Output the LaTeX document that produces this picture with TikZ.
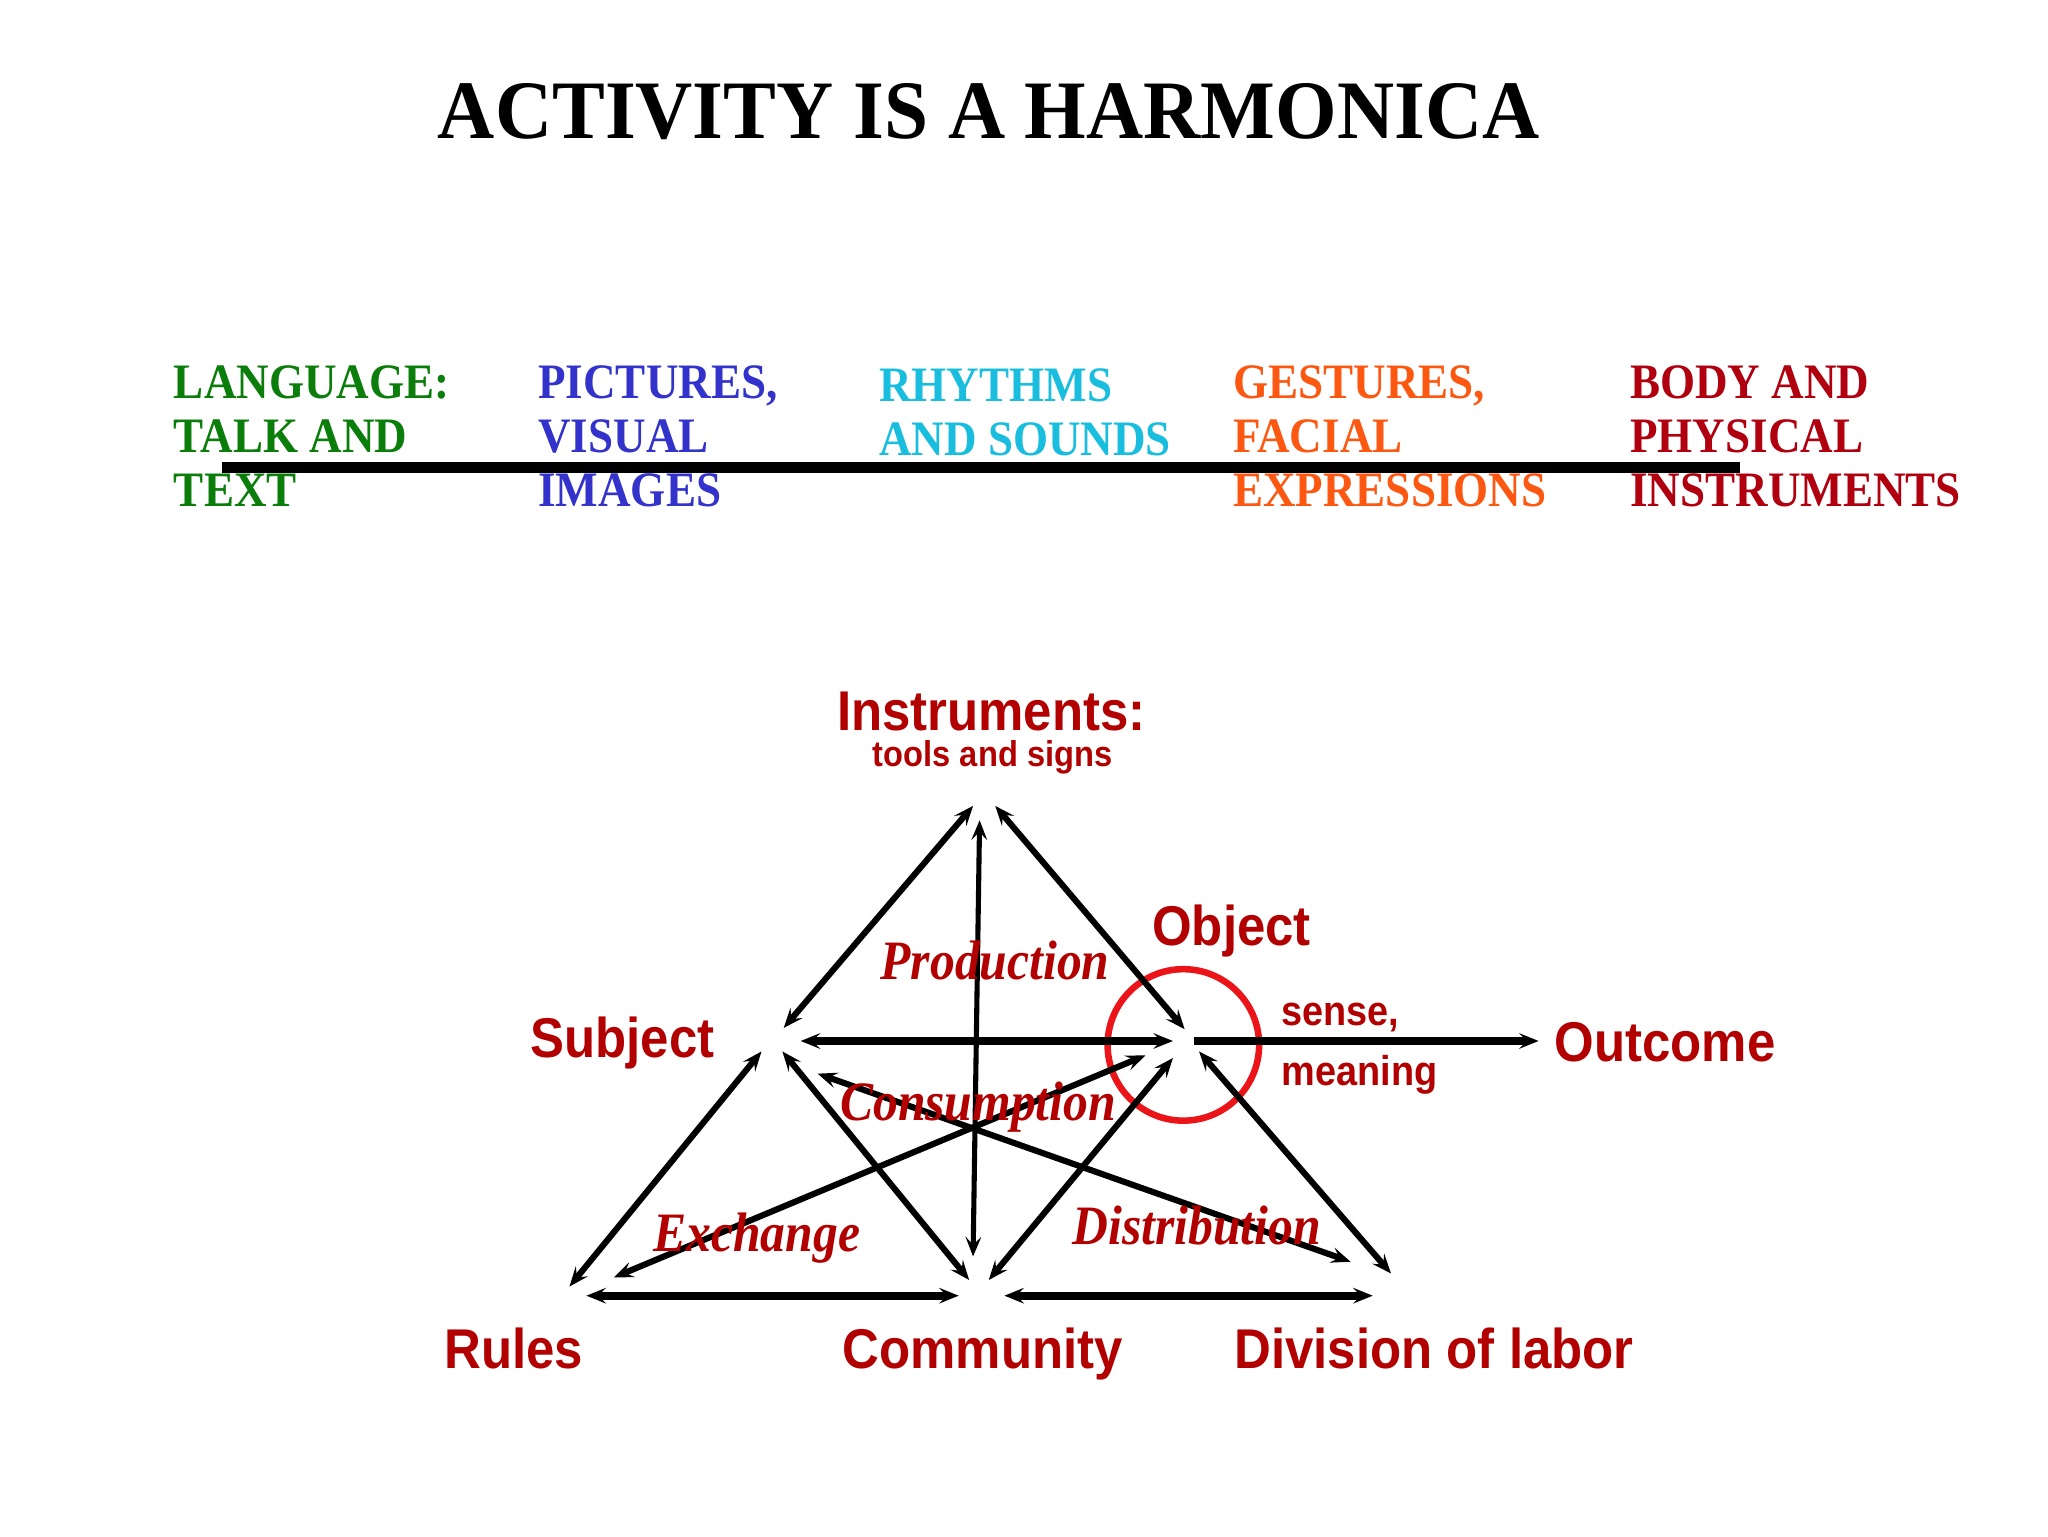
\documentclass[tikz,border=0pt]{standalone}
\usepackage{fontspec}
\setmainfont{Liberation Serif}
\newfontfamily\sansb{Liberation Sans}
\usetikzlibrary{arrows.meta,calc}
\definecolor{lgreen}{RGB}{10,125,10}
\definecolor{lblue}{RGB}{51,51,204}
\definecolor{lcyan}{RGB}{25,190,222}
\definecolor{lorange}{RGB}{252,88,18}
\definecolor{bodyred}{RGB}{176,0,16}
\definecolor{lred}{RGB}{178,0,0}
\definecolor{ringred}{RGB}{235,20,25}
\begin{document}
\begin{tikzpicture}[x=1pt,y=-1pt,
  row/.style={anchor=base west,align=left,inner sep=0pt,yscale=1.1,font=\fontsize{34.5}{37.7}\selectfont\bfseries},
  lab/.style={inner sep=0pt,yscale=1.1,text=lred,font=\fontsize{39}{44}\selectfont\sansb\bfseries},
  small/.style={inner sep=0pt,yscale=1.1,text=lred,font=\fontsize{29}{34}\selectfont\sansb\bfseries},
  ital/.style={inner sep=0pt,yscale=1.12,text=lred,font=\fontsize{38}{44}\selectfont\bfseries\itshape},
  tip/.tip={Stealth[length=15pt,width=12pt,inset=6pt]},
  link/.style={line width=4.7pt,tip-tip},
  heavy/.style={line width=6pt,tip-tip},
  thinlink/.style={line width=3.9pt,tip-tip}]
\useasboundingbox (0,0) rectangle (1568,1176);
% title
\node[anchor=base,inner sep=0pt,yscale=1.05,font=\fontsize{60.6}{66}\selectfont\bfseries] (title) at (757,106) {ACTIVITY IS A HARMONICA};
% harmonica row
\draw[line width=8.5pt] (170,358) coordinate (barL) -- (1332,358) coordinate (barR);
\node[row,text=lgreen] (lang) at (133,388) {LANGUAGE:\\TALK AND\\TEXT};
\node[row,text=lblue] (pict) at (412,388) {PICTURES,\\VISUAL\\IMAGES};
\node[row,text=lcyan] (rhy) at (673,349) {RHYTHMS\\AND SOUNDS};
\node[row,text=lorange] (gest) at (944,388) {GESTURES,\\FACIAL\\EXPRESSIONS};
\node[row,text=bodyred] (body) at (1248,388) {BODY AND\\PHYSICAL\\INSTRUMENTS};
% vertices
\coordinate (I) at (753,612);
\coordinate (S) at (597,797);
\coordinate (O) at (910,797);
\coordinate (R) at (437,985);
\coordinate (C) at (748,988);
\coordinate (D) at (1065,975);
\coordinate (Out) at (1178,797);
% labels
\node[lab,anchor=base] (instr) at (759,559) {Instruments:};
\node[small,anchor=base,font=\fontsize{25}{30}\selectfont\sansb\bfseries] (tools) at (760,587) {tools and signs};
\node[lab,anchor=base west] (obj) at (882,724) {Object};
\node[lab,anchor=base west] (subj) at (406,810) {Subject};
\node[lab,anchor=base west] (outc) at (1190,813) {Outcome};
\node[small,anchor=base west] (sense) at (981,785) {sense,};
\node[small,anchor=base west] (mean) at (981,831) {meaning};
\node[lab,anchor=base west] (rules) at (340,1048) {Rules};
\node[lab,anchor=base west] (comm) at (645,1048) {Community};
\node[lab,anchor=base west] (div) at (945,1048) {Division of labor};
% ring
\draw[ringred,line width=5pt] (906,800) circle (58);
% connectors
\draw[link] ($(I)+(-8,5)$) -- ($(S)+(3,-10)$);
\draw[link] ($(I)+(9,5)$) -- ($(O)+(-3,-9)$);
\draw[thinlink] ($(I)+(-3,16)$) -- ($(C)+(-3,-26)$);
\draw[heavy] ($(S)+(16,0)$) -- ($(O)+(-12,0)$);
\draw[heavy,-tip] ($(O)+(4,0)$) -- (Out);
\draw[link] ($(S)+(-14,8)$) -- ($(R)+(-1,0)$);
\draw[link] ($(S)+(2,8)$) -- ($(C)+(-6,-8)$);
\draw[link] ($(S)+(29,25)$) -- ($(D)+(-31,-9)$);
\draw[link] ($(O)+(-33,11)$) -- ($(R)+(33,-7)$);
\draw[link] ($(O)+(-12,13)$) -- ($(C)+(9,-8)$);
\draw[link] ($(O)+(8,8)$) -- (D);
\draw[heavy] ($(R)+(12,7)$) -- ($(C)+(-14,4)$);
\draw[heavy] ($(C)+(21,4)$) -- ($(D)+(-14,17)$);
% process labels
\node[ital,anchor=base west] (prod) at (674,750) {Production};
\node[ital,anchor=base west] (cons) at (643,858) {Consumption};
\node[ital,anchor=base west] (exch) at (500,958) {Exchange};
\node[ital,anchor=base west] (dist) at (821,953) {Distribution};
\end{tikzpicture}
\end{document}
